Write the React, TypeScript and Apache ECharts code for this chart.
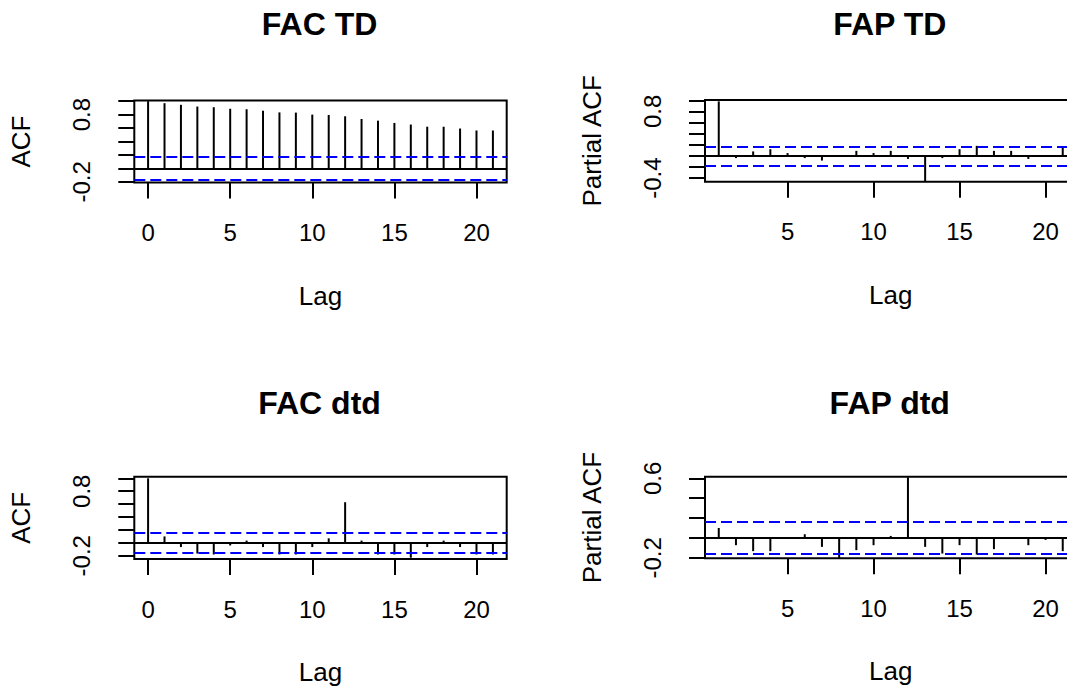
import React, { useEffect, useRef } from "react";
import * as echarts from "echarts";

// ---- data ----
const lagsACF = [0, 1, 2, 3, 4, 5, 6, 7, 8, 9, 10, 11, 12, 13, 14, 15, 16, 17, 18, 19, 20, 21];
const lagsPACF = [1, 2, 3, 4, 5, 6, 7, 8, 9, 10, 11, 12, 13, 14, 15, 16, 17, 18, 19, 20, 21];

const acfTD = [1.0, 0.97, 0.946, 0.92, 0.91, 0.887, 0.88, 0.858, 0.833, 0.83, 0.8, 0.795, 0.775, 0.735, 0.71, 0.676, 0.652, 0.62, 0.62, 0.593, 0.564, 0.564];
const pacfTD = [0.98, -0.04, 0.08, 0.12, 0.05, -0.04, -0.085, 0.005, 0.09, 0.05, 0.09, -0.055, -0.455, -0.04, 0.12, 0.18, 0.09, 0.09, -0.055, 0.0, 0.17];
const acfDtd = [1.0, 0.1, -0.065, -0.165, -0.18, -0.04, 0.035, -0.065, -0.18, -0.18, -0.065, 0.07, 0.63, 0.035, -0.18, -0.18, -0.23, -0.065, 0.035, -0.065, -0.18, -0.18];
const pacfDtd = [0.1, -0.073, -0.133, -0.133, -0.005, 0.037, -0.09, -0.205, -0.123, -0.073, 0.02, 0.61, -0.09, -0.157, -0.073, -0.167, -0.113, 0.003, -0.073, -0.02, -0.133];

const ciTD = 0.172;
const ciDtd = 0.163;

const titles = ["FAC TD", "FAP TD", "FAC dtd", "FAP dtd"];
const yNames = ["ACF", "Partial ACF", "ACF", "Partial ACF"];
const xTicksACF = [0, 5, 10, 15, 20];
const xTicksPACF = [5, 10, 15, 20];
const yTicks1 = [-0.2, 0, 0.2, 0.4, 0.6, 0.8, 1.0];
const yLabels1 = [-0.2, 0.8];
const yTicks2 = [-0.4, -0.2, 0, 0.2, 0.4, 0.6, 0.8, 1.0];
const yLabels2 = [-0.4, 0.8];
const yTicks3 = [-0.2, 0, 0.2, 0.4, 0.6, 0.8, 1.0];
const yLabels3 = [-0.2, 0.8];
const yTicks4 = [-0.2, 0, 0.2, 0.4, 0.6];
const yLabels4 = [-0.2, 0.6];

const FONT = '"Liberation Sans", Arial, sans-serif';

export default function App() {
  const ref = useRef<HTMLDivElement>(null);
  useEffect(() => {
    if (!ref.current) return;
    const chart = echarts.init(ref.current, undefined, { renderer: "svg" });

    const panels = [
      { left: 134.3, top: 100.5, width: 372.4, height: 82, xMin: -0.84, xMax: 21.84, yMin: -0.21, yMax: 1.01, lags: lagsACF, vals: acfTD, ci: ciTD, xTicks: xTicksACF, yTicks: yTicks1, yLabels: yLabels1 },
      { left: 705, top: 100, width: 371.5, height: 81.7, xMin: 0.2, xMax: 21.8, yMin: -0.465, yMax: 1.005, lags: lagsPACF, vals: pacfTD, ci: ciTD, xTicks: xTicksPACF, yTicks: yTicks2, yLabels: yLabels2 },
      { left: 134.3, top: 476.7, width: 372.4, height: 82.3, xMin: -0.84, xMax: 21.84, yMin: -0.25, yMax: 1.025, lags: lagsACF, vals: acfDtd, ci: ciDtd, xTicks: xTicksACF, yTicks: yTicks3, yLabels: yLabels3 },
      { left: 705, top: 476.7, width: 371.5, height: 81.6, xMin: 0.2, xMax: 21.8, yMin: -0.205, yMax: 0.616, lags: lagsPACF, vals: pacfDtd, ci: ciDtd, xTicks: xTicksPACF, yTicks: yTicks4, yLabels: yLabels4 },
    ];

    const tickStyle = { color: "#000", width: 2 };
    const option: any = {
      animation: false,
      backgroundColor: "#fff",
      grid: panels.map((p) => ({
        left: p.left, top: p.top, width: p.width, height: p.height,
        show: true, borderColor: "#000", borderWidth: 2, backgroundColor: "transparent",
        containLabel: false, outerBoundsMode: "none",
      })),
      xAxis: panels.map((p, i) => ({
        type: "value", gridIndex: i, min: p.xMin, max: p.xMax,
        name: "Lag", nameLocation: "middle", nameGap: 100, nameMoveOverlap: false,
        nameTextStyle: { fontSize: 26, fontFamily: FONT, color: "#000" },
        axisLine: { show: false, onZero: false },
        splitLine: { show: false },
        axisTick: { show: true, length: 16, inside: false, customValues: p.xTicks, lineStyle: tickStyle },
        axisLabel: { customValues: p.xTicks, margin: 38, fontSize: 24, fontFamily: FONT, color: "#000" },
      })),
      yAxis: panels.map((p, i) => ({
        type: "value", gridIndex: i, min: p.yMin, max: p.yMax,
        name: yNames[i], nameLocation: "middle", nameGap: 100, nameMoveOverlap: false,
        nameTextStyle: { fontSize: 26, fontFamily: FONT, color: "#000" },
        axisLine: { show: false, onZero: false },
        splitLine: { show: false },
        axisTick: { show: true, length: 16, inside: false, customValues: p.yTicks, lineStyle: tickStyle },
        axisLabel: {
          customValues: p.yLabels, rotate: 90, margin: 41, fontSize: 24, fontFamily: FONT, color: "#000",
          formatter: (v: number) => v.toFixed(1),
        },
      })),
      series: panels.map((p, i) => ({
        type: "bar", xAxisIndex: i, yAxisIndex: i, silent: true,
        barWidth: 2,
        itemStyle: { color: "#000" },
        data: p.lags.map((l, k) => [l, p.vals[k]]),
        markLine: {
          silent: true, symbol: ["none", "none"], label: { show: false },
          data: [
            { yAxis: 0, lineStyle: { color: "#000", width: 2, type: "solid" } },
            { yAxis: p.ci, lineStyle: { color: "#0000ff", width: 2, type: [11, 5] } },
            { yAxis: -p.ci, lineStyle: { color: "#0000ff", width: 2, type: [11, 5] } },
          ],
        },
      })),
      graphic: panels.map((p, i) => ({
        type: "text",
        x: p.left + p.width / 2 - 1,
        y: i < 2 ? 24 : 403,
        style: {
          text: titles[i], align: "center", verticalAlign: "middle",
          fontSize: 32, fontWeight: "bold", fontFamily: FONT, fill: "#000",
        },
      })),
    };
    chart.setOption(option);
    return () => chart.dispose();
  }, []);
  return (
    <div
      ref={ref}
      style={{ position: "absolute", left: 0, top: 0, width: 1067, height: 686, overflow: "hidden", background: "#fff" }}
    />
  );
}
